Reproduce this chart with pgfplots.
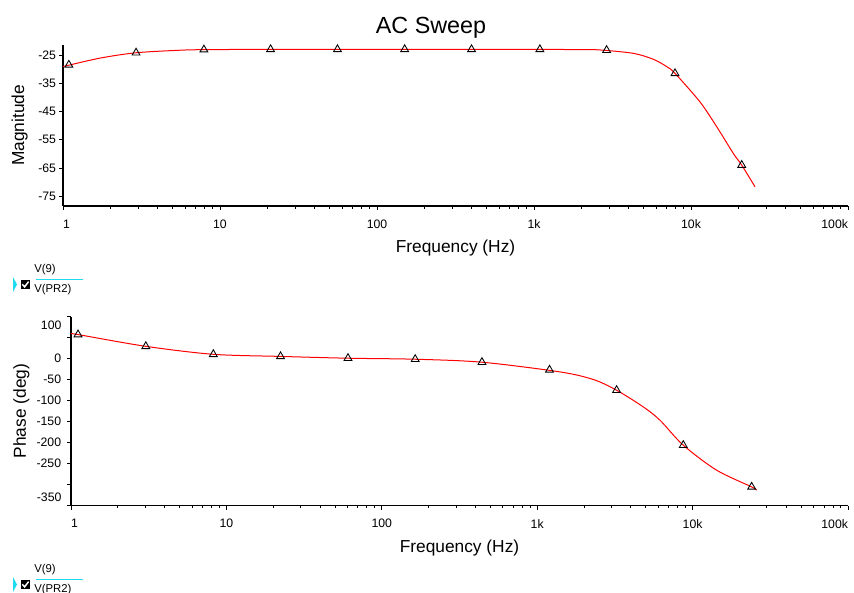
\documentclass[border=0pt]{standalone}
\usepackage{fontspec}
\setmainfont{Liberation Sans}
\usepackage{pgfplots}
\pgfplotsset{compat=1.18}

\definecolor{legcyan}{RGB}{30,220,240}

\begin{document}
\begin{tikzpicture}[x=0.75pt, y=-0.75pt]
\path[use as bounding box] (0,0) rectangle (854,593);

\node[anchor=base, font=\fontsize{17.5}{20}\selectfont] at (431,33) {AC Sweep};

% magnitude
\begin{axis}[
  scale only axis, anchor=south west,
  at={(47.25pt,-154.5pt)},
  width=588.75pt, height=120.75pt,
  xmode=log, xmin=1, xmax=100000,
  ymin=-78.5, ymax=-21.45,
  axis lines=left,
  axis line style={-, line width=0.9pt, black},
  tick align=outside,
  major tick length=3pt, minor tick length=2pt,
  tick style={black, line width=0.6pt},
  xtick={1,10,100,1000,10000,100000},
  xticklabels={\makebox[0pt][l]{1},10,100,1k,10k,\makebox[0pt][r]{100k}},
  ytick={-75,-65,-55,-45,-35,-25},
  tick label style={font=\fontsize{9.2}{11}\selectfont},
  /pgf/number format/assume math mode=true,
  xticklabel style={yshift=-3.9pt},
  yticklabel style={xshift=1.3pt},
  xlabel={Frequency (Hz)},
  ylabel={Magnitude},
  every axis y label/.style={at={(axis description cs:-0.0552,0.5)}, rotate=90, anchor=center, font=\fontsize{13}{15}\selectfont},
  every axis x label/.style={at={(axis description cs:0.5,-0.261)}, anchor=center, font=\fontsize{13}{15}\selectfont},
]
\addplot[red, line width=0.75pt, smooth, no markers] coordinates {
  (1,-29.1) (1.72,-26.1) (2.92,-24.2) (5.56,-23.3) (7.9,-23.1) (20,-23.0)
  (100,-23.0) (1000,-23.0) (2000,-23.1) (2630,-23.2) (4290,-24.4)
  (5750,-26.5) (7000,-29.1) (7910,-31.5) (11400,-41.6)
  (14580,-50.4) (18620,-59.9) (21040,-64.0) (25570,-71.7)
};
\addplot[only marks, mark=triangle, mark size=3.4pt, mark options={black, line width=0.65pt}] coordinates {
  (1.09,-28.5) (2.92,-24.2) (7.9,-23.1) (21,-23.0) (56,-23.0) (150,-23.0)
  (400,-23.0) (1090,-23.0) (2900,-23.3) (7910,-31.5) (21040,-64.0)
};
\end{axis}

% phase
\begin{axis}[
  scale only axis, anchor=south west,
  at={(53.25pt,-379.125pt)},
  width=582.75pt, height=141.75pt,
  xmode=log, xmin=1, xmax=100000,
  ymin=-350, ymax=100,
  axis lines=left,
  axis line style={-, line width=0.9pt, black},
  tick align=outside,
  major tick length=3pt, minor tick length=2pt,
  tick style={black, line width=0.6pt},
  xtick={1,10,100,1000,10000,100000},
  xticklabels={\makebox[0pt][l]{1},10,100,1k,10k,\makebox[0pt][r]{100k}},
  ytick={-350,-300,-250,-200,-150,-100,-50,0,50,100},
  yticklabels={,,-250,-200,-150,-100,-50,0,,},
  tick label style={font=\fontsize{9.2}{11}\selectfont},
  /pgf/number format/assume math mode=true,
  xticklabel style={yshift=-3.9pt},
  yticklabel style={xshift=-0.9pt},
  xlabel={Frequency (Hz)},
  ylabel={Phase (deg)},
  every axis y label/.style={at={(axis description cs:-0.064,0.5)}, rotate=90, anchor=center, font=\fontsize{13}{15}\selectfont},
  every axis x label/.style={at={(axis description cs:0.5,-0.225)}, anchor=center, font=\fontsize{13}{15}\selectfont},
  clip mode=individual,
]
\addplot[red, line width=0.75pt, smooth, no markers] coordinates {
  (1,59) (1.11,57) (3.03,29) (8.24,10) (22.3,5) (60.6,0.7) (164,-1.7)
  (441,-8.8) (1402,-31.9) (2297,-50) (3243,-75.5) (4815,-115.2) (6170,-147)
  (8710,-206.4) (14290,-266) (23990,-305.7) (25810,-313.6)
};
\addplot[only marks, mark=triangle, mark size=3.4pt, mark options={black, line width=0.65pt}] coordinates {
  (1.11,57) (3.03,29) (8.24,10) (22.3,5) (60.6,0.7) (164,-1.7)
  (441,-8.8) (1200,-27) (3243,-75.5) (8710,-206.4) (23990,-305.7)
};
\node[anchor=east, inner sep=0pt, font=\fontsize{9.2}{11}\selectfont]
  at (axis cs:1,100) [xshift=-7pt, yshift=-6.4pt] {100};
\node[anchor=east, inner sep=0pt, font=\fontsize{9.2}{11}\selectfont]
  at (axis cs:1,-350) [xshift=-7pt, yshift=6.4pt] {-350};
\end{axis}

% trace legends
\foreach \dy in {0,300} {
  \fill[legcyan] (13,277+\dy) -- (17,284.5+\dy) -- (13,292+\dy) -- cycle;
  \fill[black] (20.7,280+\dy) rectangle (30,289+\dy);
  \draw[white, line width=1.1pt] (22.3,284.3+\dy) -- (24.6,286.9+\dy) -- (28.6,281.6+\dy);
  \draw[legcyan, line width=1.2pt] (36,279.3+\dy) -- (83.3,279.3+\dy);
  \node[anchor=west, inner sep=0pt, font=\fontsize{8.5}{10}\selectfont] at (34,269.5+\dy) {V(9)};
  \node[anchor=west, inner sep=0pt, font=\fontsize{8.5}{10}\selectfont] at (34,289.5+\dy) {V(PR2)};
}
\end{tikzpicture}
\end{document}
